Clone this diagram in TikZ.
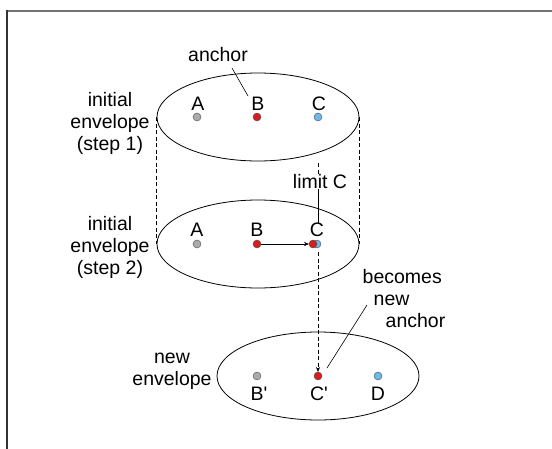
\documentclass[tikz,border=0pt]{standalone}
\usepackage{fontspec}
\setmainfont{Liberation Sans}
\usetikzlibrary{arrows.meta,shapes.geometric}

\definecolor{dotgray}{RGB}{170,170,170}
\definecolor{dotred}{RGB}{215,30,30}
\definecolor{dotblue}{RGB}{110,185,235}

\tikzset{
	env/.style={draw,ellipse,inner sep=0,minimum width=202pt,minimum height=88pt,line width=0.8pt},
	dot/.style={draw=black!70,circle,inner sep=0,outer sep=0,minimum size=8pt,line width=0.4pt},
	lbl/.style={font=\fontsize{19.5}{22}\selectfont,inner sep=0},
	txt/.style={font=\fontsize{19.5}{22}\selectfont,align=center,inner sep=0},
	dash line/.style={dash pattern=on 4pt off 2.5pt,line width=0.6pt}
}

\begin{document}
\begin{tikzpicture}[x=1pt,y=-1pt]
	\useasboundingbox (0,0) rectangle (552,448);
	\begin{scope}
	\clip (0,0) rectangle (552,448);
	\draw[black!55,line width=1.5pt] (6.5,11) -- (560,11);
	\draw[black!80,line width=1.3pt] (7,10.3) -- (7,460);
	\end{scope}
	% envelopes
	\node[env] (e1) at (258,117) {};
	\node[env] (e2) at (258,244) {};
	\node[env] (e3) at (318,376) {};
	\draw[dash line] (e1.west) -- (e2.west);
	\draw[dash line] (e1.east) -- (e2.east);
	% step 1
	\node[dot,fill=dotgray] (a1) at (197,117) {};
	\node[dot,fill=dotred] (b1) at (257,117) {};
	\node[dot,fill=dotblue] (c1) at (318,117) {};
	\node[lbl] (la1) at (198,104) {A};
	\node[lbl] (lb1) at (258,104) {B};
	\node[lbl] (lc1) at (319,104) {C};
	% step 2
	\node[dot,fill=dotgray] (a2) at (197,244) {};
	\node[dot,fill=dotblue] (c2) at (317,244) {};
	\node[dot,fill=dotred] (c2r) at (313,244) {};
	\node[dot,fill=dotred] (b2) at (257,244) {};
	\node[lbl] (la2) at (197,230) {A};
	\node[lbl] (lb2) at (257,230) {B};
	\node[lbl] (lc2) at (317,230) {C};
	\draw[-{Stealth[length=5pt,width=4pt]},line width=0.6pt] (b2) -- (c2r);
	% new envelope
	\node[dot,fill=dotgray] (b3) at (257,376) {};
	\node[dot,fill=dotred] (c3) at (318,376) {};
	\node[dot,fill=dotblue] (d3) at (378,376) {};
	\node[lbl] (lb3) at (259,394) {B\textquotesingle};
	\node[lbl] (lc3) at (319,394) {C\textquotesingle};
	\node[lbl] (ld3) at (378,394) {D};
	\draw[dash line,-{Stealth[length=5pt,width=4pt]}] (318,252) -- (c3.north);
	% texts
	\node[txt] (anchor) at (218,55) {anchor};
	\draw[line width=0.6pt] (232,68) -- (248,96);
	\node[txt] (init1) at (110,123) {initial\\envelope\\(step 1)};
	\node[txt] (init2) at (110,247) {initial\\envelope\\(step 2)};
	\node[txt] (newenv) at (172,371) {new\\envelope};
	\node[txt] (limit) at (320,182) {limit C};
	\draw[dash line] (318,163) -- (limit.north -| 318,0);
	\draw[line width=0.6pt] (limit.south -| 318,0) -- (lc2.north -| 318,0);
	\node[txt,align=left] (becomes) at (404,299) {becomes\\\hspace{11pt}new\\\hspace{23pt}anchor};
	\draw[line width=0.6pt] (327,368) -- (367,305);
\end{tikzpicture}
\end{document}
